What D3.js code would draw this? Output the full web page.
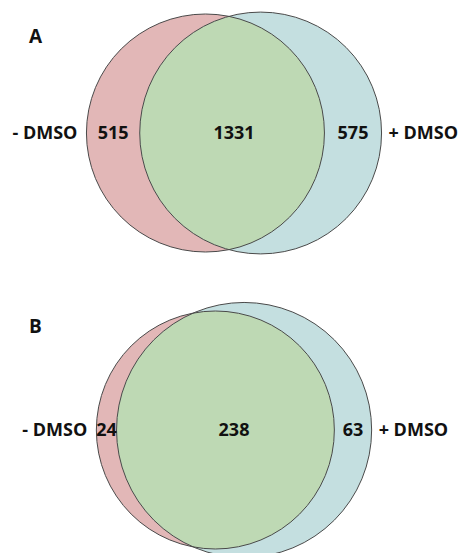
<!DOCTYPE html>
<html>
<head>
<meta charset="utf-8">
<script src="https://cdn.jsdelivr.net/npm/d3@7"></script>
<style>
  html, body { margin: 0; padding: 0; background: #fff; }
  svg { display: block; }
  text { font-family: "Open Sans", "DejaVu Sans", sans-serif; font-weight: 700; fill: #111; }
</style>
</head>
<body>
<svg id="chart" width="463" height="553"></svg>
<script>
// Two-set Venn diagrams: genes detected without / with DMSO
const panels = ["A", "B"];
const setNames = ["- DMSO", "+ DMSO"];
const onlyMinus = [515, 24];   // only in - DMSO
const shared = [1331, 238];    // in both
const onlyPlus = [575, 63];    // only in + DMSO

const colors = { minus: "#e2b7b7", plus: "#c4dfe0", both: "#bed9b4", stroke: "#4a4a4a" };

const W = 463, H = 553;
const leftRadius = 119;          // radius given to the - DMSO circle in each panel
const centerX = 234;             // horizontal centre of each diagram
const centerY = [133, 430];      // vertical centre of each diagram
const letterPos = [[29, 43], [29, 333]];

const svg = d3.select("#chart");
const defs = svg.append("defs");

// area of the lens between two circles of radii r1, r2 at distance d
function lensArea(r1, r2, d) {
  if (d >= r1 + r2) return 0;
  if (d <= Math.abs(r1 - r2)) return Math.PI * Math.min(r1, r2) ** 2;
  const a1 = Math.acos((d * d + r1 * r1 - r2 * r2) / (2 * d * r1));
  const a2 = Math.acos((d * d + r2 * r2 - r1 * r1) / (2 * d * r2));
  return r1 * r1 * (a1 - Math.sin(2 * a1) / 2) + r2 * r2 * (a2 - Math.sin(2 * a2) / 2);
}

// centre distance that gives the wanted overlap area (bisection)
function solveDistance(r1, r2, target) {
  let lo = Math.abs(r1 - r2), hi = r1 + r2;
  for (let i = 0; i < 100; i++) {
    const mid = (lo + hi) / 2;
    if (lensArea(r1, r2, mid) > target) lo = mid; else hi = mid;
  }
  return (lo + hi) / 2;
}

panels.forEach((name, i) => {
  const totalMinus = onlyMinus[i] + shared[i];
  const totalPlus = onlyPlus[i] + shared[i];
  // circle area proportional to set size
  const r = d3.scaleSqrt().domain([0, totalMinus]).range([0, leftRadius]);
  const r1 = r(totalMinus), r2 = r(totalPlus);
  const areaPerItem = Math.PI * r1 * r1 / totalMinus;
  const d = solveDistance(r1, r2, shared[i] * areaPerItem);

  const cx1 = centerX - (d + r2 - r1) / 2;
  const cx2 = cx1 + d;
  const cy = centerY[i];

  const g = svg.append("g");

  g.append("circle").attr("cx", cx1).attr("cy", cy).attr("r", r1).attr("fill", colors.minus);
  g.append("circle").attr("cx", cx2).attr("cy", cy).attr("r", r2).attr("fill", colors.plus);

  const clipId = "clip-" + name;
  defs.append("clipPath").attr("id", clipId)
    .append("circle").attr("cx", cx1).attr("cy", cy).attr("r", r1);
  g.append("circle").attr("cx", cx2).attr("cy", cy).attr("r", r2)
    .attr("fill", colors.both).attr("clip-path", `url(#${clipId})`);

  [[cx1, r1], [cx2, r2]].forEach(([cx, rr]) => {
    g.append("circle").attr("cx", cx).attr("cy", cy).attr("r", rr)
      .attr("fill", "none").attr("stroke", colors.stroke).attr("stroke-width", 1);
  });

  const fs = 18;
  const leftEdge = cx1 - r1, rightEdge = cx2 + r2;
  const lensLeft = cx2 - r2, lensRight = cx1 + r1;

  const labels = [
    { x: (leftEdge + lensLeft) / 2, t: onlyMinus[i], anchor: "middle" },
    { x: (leftEdge + rightEdge) / 2, t: shared[i], anchor: "middle" },
    { x: (lensRight + rightEdge) / 2, t: onlyPlus[i], anchor: "middle" },
    { x: leftEdge - 9, t: setNames[0], anchor: "end" },
    { x: rightEdge + 7, t: setNames[1], anchor: "start" }
  ];
  g.selectAll("text.lbl").data(labels).join("text")
    .attr("class", "lbl")
    .attr("x", l => l.x).attr("y", cy)
    .attr("dy", "0.36em")
    .attr("text-anchor", l => l.anchor)
    .attr("font-size", fs)
    .text(l => l.t);

  g.append("text").attr("x", letterPos[i][0]).attr("y", letterPos[i][1])
    .attr("font-size", 19).text(name);
});
</script>
</body>
</html>
